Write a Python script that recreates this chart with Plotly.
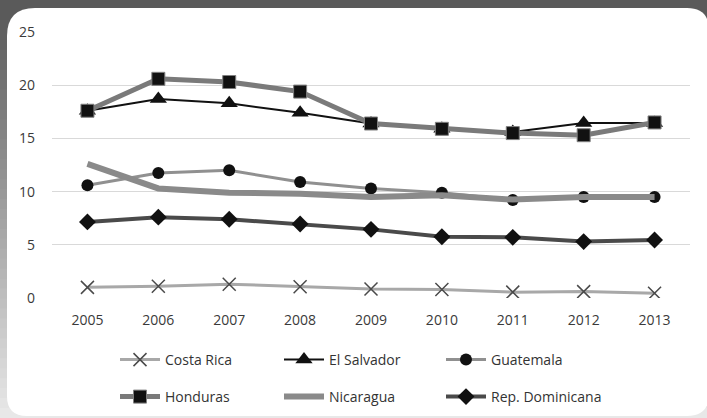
import plotly.graph_objects as go

# data
years = ["2005", "2006", "2007", "2008", "2009", "2010", "2011", "2012", "2013"]
costa_rica = [1.0, 1.1, 1.3, 1.05, 0.85, 0.8, 0.55, 0.6, 0.45]
el_salvador = [17.6, 18.7, 18.3, 17.4, 16.4, 15.9, 15.6, 16.45, 16.45]
guatemala = [10.6, 11.75, 12.0, 10.9, 10.3, 9.9, 9.2, 9.5, 9.5]
honduras = [17.6, 20.6, 20.3, 19.4, 16.4, 15.9, 15.5, 15.3, 16.5]
nicaragua = [12.6, 10.3, 9.9, 9.8, 9.5, 9.65, 9.25, 9.5, 9.5]
rep_dominicana = [7.15, 7.6, 7.4, 6.95, 6.45, 5.75, 5.7, 5.3, 5.45]

W, H = 707, 418
ML, MR, MT, MB = 52, 17, 32, 120
PW, PH = W - ML - MR, H - MT - MB

FONT = "Open Sans, Noto Sans, sans-serif"
FS = 14


def px(x):
    return (x - ML) / PW


def py(y):
    return (H - MB - y) / PH


fig = go.Figure()

fig.add_trace(go.Scatter(
    x=years, y=costa_rica, name="Costa Rica", mode="lines+markers",
    line=dict(color="#a8a8a8", width=3),
    marker=dict(symbol="x-thin-open", size=13, color="#4a4a4a", line=dict(width=1.5, color="#4a4a4a")),
    legend="legend"))
fig.add_trace(go.Scatter(
    x=years, y=el_salvador, name="El Salvador", mode="lines+markers",
    line=dict(color="#111111", width=2),
    marker=dict(symbol="triangle-up", size=15, color="#111111"),
    legend="legend2"))
fig.add_trace(go.Scatter(
    x=years, y=guatemala, name="Guatemala", mode="lines+markers",
    line=dict(color="#909090", width=3),
    marker=dict(symbol="circle", size=12, color="#111111"),
    legend="legend3"))
fig.add_trace(go.Scatter(
    x=years, y=honduras, name="Honduras", mode="lines+markers",
    line=dict(color="#7a7a7a", width=5),
    marker=dict(symbol="square", size=13, color="#111111", line=dict(width=1, color="#808080")),
    legend="legend4"))
fig.add_trace(go.Scatter(
    x=years, y=nicaragua, name="Nicaragua", mode="lines",
    line=dict(color="#8a8a8a", width=6),
    legend="legend5"))
fig.add_trace(go.Scatter(
    x=years, y=rep_dominicana, name="Rep. Dominicana", mode="lines+markers",
    line=dict(color="#4a4a4a", width=4),
    marker=dict(symbol="diamond", size=13, color="#111111"),
    legend="legend6"))

# background: vertical gray gradient, then white rounded panel
shapes = []
n = 42
c0, c1 = 0x5a, 0xe8
for i in range(n):
    y0 = H * i / n
    y1 = H * (i + 1) / n + 1
    v = int(c0 + (c1 - c0) * max(0, i - 1) / (n - 2))
    v = min(v, c1)
    shapes.append(dict(type="rect", xref="paper", yref="paper", layer="below",
                       x0=px(-2), x1=px(W + 2), y0=py(y1), y1=py(y0),
                       fillcolor="rgb(%d,%d,%d)" % (v, v, v), line=dict(width=0)))

L, T, R, B = 7, 8, 709, 416
r1, r2, r3, r4 = 28, 22, 22, 20
path = (
    f"M {px(L)},{py(T + r1)} Q {px(L)},{py(T)} {px(L + r1)},{py(T)} "
    f"L {px(R - r2)},{py(T)} Q {px(R)},{py(T)} {px(R)},{py(T + r2)} "
    f"L {px(R)},{py(B - r3)} Q {px(R)},{py(B)} {px(R - r3)},{py(B)} "
    f"L {px(L + r4)},{py(B)} Q {px(L)},{py(B)} {px(L)},{py(B - r4)} Z"
)
shapes.append(dict(type="path", xref="paper", yref="paper", layer="below", path=path,
                   fillcolor="#ffffff", line=dict(width=0)))


def leg(xpix, ypix):
    return dict(orientation="h", xref="container", yref="container",
                x=xpix / W, y=1 - ypix / H, xanchor="left", yanchor="middle",
                font=dict(family=FONT, size=FS, color="#333333"),
                bgcolor="rgba(0,0,0,0)", itemwidth=40)


row1, row2 = 360, 397
cols = [115, 279, 441]

fig.update_layout(
    width=W, height=H,
    margin=dict(l=ML, r=MR, t=MT, b=MB, autoexpand=False),
    paper_bgcolor="#5c5a5b",
    plot_bgcolor="rgba(0,0,0,0)",
    font=dict(family=FONT, size=FS, color="#3a3a3a"),
    shapes=shapes,
    showlegend=True,
    legend=leg(cols[0], row1),
    legend2=leg(cols[1], row1),
    legend3=leg(cols[2], row1),
    legend4=leg(cols[0], row2),
    legend5=leg(cols[1], row2),
    legend6=leg(cols[2], row2),
    xaxis=dict(type="category", range=[-0.5, 8.5], showgrid=False, zeroline=False,
               showline=False, ticks="", ticklabelstandoff=12,
               tickfont=dict(family=FONT, size=FS, color="#3a3a3a")),
    yaxis=dict(range=[0, 25], dtick=5, showgrid=True, gridcolor="#d9d9d9", gridwidth=1,
               zeroline=False, showline=False, ticks="", ticklabelstandoff=16,
               tickfont=dict(family=FONT, size=FS, color="#3a3a3a")),
)

# page body has a default 8px margin; drop it so the figure fills the window
fig.write_html("out.html", config={"displayModeBar": False},
               post_script="document.body.style.margin='0';")
